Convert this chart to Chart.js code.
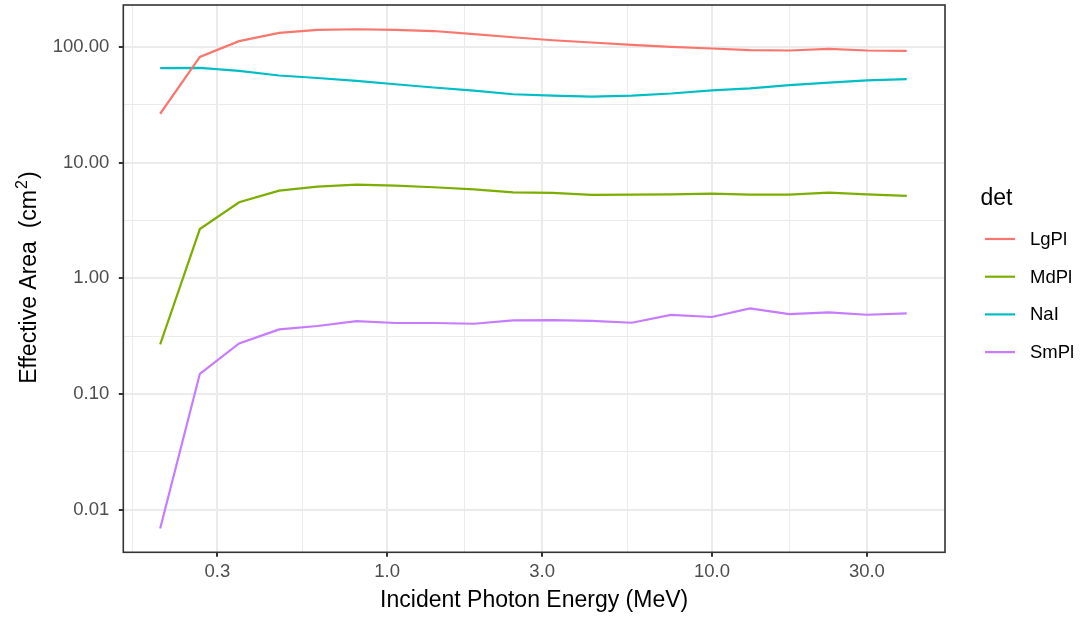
<!DOCTYPE html>
<html>
<head>
<meta charset="utf-8">
<title>Effective Area vs Incident Photon Energy</title>
<script src="https://cdn.jsdelivr.net/npm/chart.js@4/dist/chart.umd.min.js"></script>
<style>
  html, body { margin: 0; padding: 0; background: #ffffff; }
  #wrap { width: 1084px; height: 618px; }
</style>
</head>
<body>
<div id="wrap"><canvas id="chart" width="1084" height="618"></canvas></div>
<script>
// Incident photon energy (MeV) for each simulated point
const energy = [0.2, 0.265, 0.35, 0.465, 0.61, 0.805, 1.06, 1.39, 1.85, 2.44,
                3.23, 4.27, 5.67, 7.48, 10.0, 13.1, 17.3, 22.9, 30.0, 39.8];

// Effective area (cm^2) per detector
const lgPl = [26.4, 81.9, 112, 132, 140, 142, 140, 137, 129, 121,
              114, 109, 104, 100, 96.8, 93.6, 93.0, 96.0, 93.0, 92.3];
const mdPl = [0.268, 2.66, 4.53, 5.71, 6.19, 6.44, 6.32, 6.11, 5.87, 5.52,
              5.46, 5.25, 5.28, 5.31, 5.38, 5.28, 5.28, 5.49, 5.31, 5.14];
const naI  = [65.4, 65.8, 62.0, 56.5, 53.8, 50.7, 47.5, 44.5, 41.9, 38.9,
              37.9, 37.1, 37.9, 39.5, 42.1, 43.8, 46.6, 49.1, 51.2, 52.5];
const smPl = [0.00687, 0.149, 0.273, 0.361, 0.386, 0.426, 0.410, 0.410, 0.404, 0.432,
              0.434, 0.427, 0.412, 0.481, 0.462, 0.549, 0.489, 0.507, 0.483, 0.496];

const detLabels = ['LgPl', 'MdPl', 'NaI', 'SmPl'];
const detValues = [lgPl, mdPl, naI, smPl];
const detColors = ['#F8766D', '#7CAE00', '#00BFC4', '#C77CFF'];

// Axis breaks and labels
const xMajor = [0.3, 1, 3, 10, 30];
const xTickLabels = ['0.3', '1.0', '3.0', '10.0', '30.0'];
const xMinor = [0.164, 0.548, 1.73, 5.48, 17.3];
const yMajor = [0.01, 0.1, 1, 10, 100];
const yTickLabels = ['0.01', '0.10', '1.00', '10.00', '100.00'];
const yMinor = [0.0316, 0.316, 3.16, 31.6];

const FONT = '"Liberation Sans", Arial, Helvetica, sans-serif';
const xTitle = 'Incident Photon Energy (MeV)';
const legendTitle = 'det';

function tickSet(major, minor) {
  return major.concat(minor).sort((a, b) => a - b).map(v => ({ value: v }));
}

function gridOptions(major) {
  return {
    color: '#EBEBEB',
    lineWidth: c => (c.tick && major.includes(c.tick.value)) ? 2 : 1,
    drawTicks: true,
    tickLength: 4.5,
    tickWidth: 2,
    tickColor: c => (c.tick && major.includes(c.tick.value)) ? '#333333' : 'rgba(0,0,0,0)'
  };
}

// Fixed axis box sizes so the panel keeps its place
function fixAxis(size, horizontal) {
  return s => {
    if (horizontal) { s.height = size; } else { s.width = size; }
    s.paddingTop = 0; s.paddingBottom = 0; s.paddingLeft = 0; s.paddingRight = 0;
  };
}

// Panel border, axis titles and legend drawn on top of the plot
const decorations = {
  id: 'decorations',
  afterDraw(chart) {
    const ctx = chart.ctx;
    const a = chart.chartArea;
    ctx.save();

    ctx.strokeStyle = '#333333';
    ctx.lineWidth = 1.6;
    ctx.strokeRect(a.left, a.top, a.right - a.left, a.bottom - a.top);

    ctx.fillStyle = '#000000';
    ctx.font = '23px ' + FONT;
    ctx.textAlign = 'center';
    ctx.textBaseline = 'alphabetic';
    ctx.fillText(xTitle, (a.left + a.right) / 2, 607);

    // y title with superscript
    ctx.save();
    ctx.translate(35.5, (a.top + a.bottom) / 2);
    ctx.rotate(-Math.PI / 2);
    ctx.textAlign = 'left';
    const mainTxt = 'Effective Area  (cm';
    const supTxt = '2';
    const closeTxt = ')';
    ctx.font = '23px ' + FONT;
    const wMain = ctx.measureText(mainTxt).width;
    const wClose = ctx.measureText(closeTxt).width;
    ctx.font = '16px ' + FONT;
    const wSup = ctx.measureText(supTxt).width;
    let x0 = -(wMain + wSup + wClose) / 2;
    ctx.font = '23px ' + FONT;
    ctx.fillText(mainTxt, x0, 0);
    ctx.font = '16px ' + FONT;
    ctx.fillText(supTxt, x0 + wMain + 1, -9);
    ctx.font = '23px ' + FONT;
    ctx.fillText(closeTxt, x0 + wMain + wSup + 2, 0);
    ctx.restore();

    // legend
    ctx.textAlign = 'left';
    ctx.textBaseline = 'alphabetic';
    ctx.font = '23px ' + FONT;
    ctx.fillText(legendTitle, 980.5, 205);
    ctx.font = '18.5px ' + FONT;
    ctx.textBaseline = 'middle';
    chart.data.datasets.forEach((ds, i) => {
      const y = 239 + i * 37.7;
      ctx.strokeStyle = ds.borderColor;
      ctx.lineWidth = 2.2;
      ctx.beginPath();
      ctx.moveTo(985, y);
      ctx.lineTo(1015, y);
      ctx.stroke();
      ctx.fillStyle = '#000000';
      ctx.fillText(ds.label, 1030, y + 1);
    });
    ctx.restore();
  }
};

const datasets = detLabels.map((name, i) => ({
  label: name,
  data: energy.map((e, j) => ({ x: e, y: detValues[i][j] })),
  borderColor: detColors[i],
  backgroundColor: detColors[i],
  borderWidth: 2.2,
  pointRadius: 0,
  tension: 0,
  fill: false
}));

new Chart(document.getElementById('chart'), {
  type: 'line',
  data: { datasets },
  options: {
    responsive: false,
    animation: false,
    devicePixelRatio: 1,
    events: [],
    layout: { padding: { left: 0, top: 5, right: 139, bottom: 0 } },
    plugins: { legend: { display: false }, tooltip: { enabled: false } },
    scales: {
      x: {
        type: 'logarithmic',
        min: 0.154,
        max: 52.2,
        bounds: 'data',
        afterBuildTicks: s => { s.ticks = tickSet(xMajor, xMinor); },
        afterFit: fixAxis(65.7, true),
        border: { display: false },
        grid: gridOptions(xMajor),
        ticks: {
          autoSkip: false, maxRotation: 0, minRotation: 0, padding: 4.5,
          color: '#4D4D4D', font: { family: FONT, size: 18.5 },
          callback: v => { const k = xMajor.indexOf(v); return k >= 0 ? xTickLabels[k] : ''; }
        }
      },
      y: {
        type: 'logarithmic',
        min: 0.00427,
        max: 230,
        bounds: 'data',
        afterBuildTicks: s => { s.ticks = tickSet(yMajor, yMinor); },
        afterFit: fixAxis(123.3, false),
        border: { display: false },
        grid: gridOptions(yMajor),
        ticks: {
          autoSkip: false, padding: 9.5,
          color: '#4D4D4D', font: { family: FONT, size: 18.5 },
          callback: v => { const k = yMajor.indexOf(v); return k >= 0 ? yTickLabels[k] : ''; }
        }
      }
    }
  },
  plugins: [decorations]
});
</script>
</body>
</html>
